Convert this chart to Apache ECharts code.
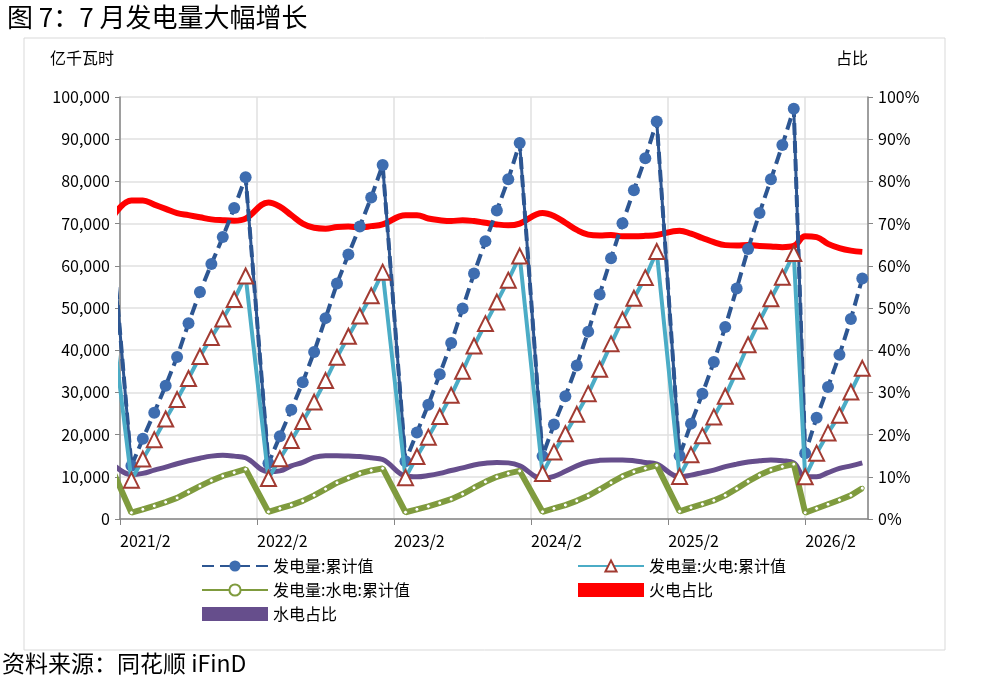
<!DOCTYPE html>
<html><head><meta charset="utf-8">
<script src="https://cdn.jsdelivr.net/npm/echarts@6/dist/echarts.min.js"></script>
<style>html,body{margin:0;background:#fff}#main{width:988px;height:691px}</style>
</head><body><div id="main"></div>
<script>
// month index: 2021/1 = 0 ; -1 = 2020/12 (clipped, only gives the slope at the left edge)
var idx = [-1,
  1,2,3,4,5,6,7,8,9,10,11,
  13,14,15,16,17,18,19,20,21,22,23,
  25,26,27,28,29,30,31,32,33,34,35,
  37,38,39,40,41,42,43,44,45,46,47,
  49,50,51,52,53,54,55,56,57,58,59,
  60,61,62,63,64,65];
var total = [76200,
  12600,19000,25200,31600,38400,46400,53800,60400,66800,73700,81000,
  13200,19600,25900,32400,39600,47600,55800,62700,69300,76200,83900,
  13700,20500,27100,34300,41700,49900,58200,65800,73100,80500,89100,
  14900,22400,29100,36400,44400,53200,61800,70100,77900,85500,94200,
  15000,22600,29700,37200,45500,54600,64000,72500,80500,88600,97200,
  15600,24000,31300,38900,47400,57000];
var thermal = [53300,
  9200,14200,18800,23700,28300,33300,38500,43000,47400,52000,57600,
  9600,14300,18600,23100,27700,32800,38300,43300,48100,52900,58500,
  9800,14800,19400,24300,29300,35000,41000,46300,51400,56600,62300,
  10800,15900,20200,24800,29700,35500,41500,47200,52300,57200,63400,
  10100,15200,19700,24200,29100,35000,41300,46900,52200,57300,62900,
  10000,15600,20400,24600,30100,35700];
var hydro = [13600,
  1500,2300,3100,4000,5000,6400,7800,9100,10200,11000,11800,
  1700,2500,3300,4300,5600,7100,8600,9700,10800,11500,12000,
  1600,2300,3000,3800,4700,5900,7400,8800,10000,10800,11400,
  1700,2500,3300,4300,5500,7000,8600,10100,11200,12000,12700,
  1800,2700,3500,4400,5600,7200,8900,10400,11600,12400,13000,
  1500,2500,3500,4500,5600,7300];
var thermalShare = [70,
  75.5,75.5,74.5,73.5,72.5,72,71.5,71,70.8,70.7,71.2,
  75,74,72,70,69,68.8,69.2,69.3,69.1,69.4,69.8,
  72,72,71.2,70.8,70.6,70.8,70.6,70.2,69.8,69.6,70,
  72.5,71.8,70.2,68.5,67.4,67.2,67.3,67,67,67.1,67.3,
  68.3,67.6,66.6,65.6,64.9,64.8,64.9,64.7,64.6,64.4,64.7,
  67,66.8,65.2,64.2,63.6,63.3];
var hydroShare = [14,
  10.5,10.8,11.6,12.3,13.1,13.8,14.4,14.9,15.1,14.9,14.5,
  11.2,11.4,12.6,13.4,14.6,15,15,14.9,14.8,14.5,14.1,
  10.2,10,10.3,10.8,11.5,12.1,12.8,13.2,13.4,13.3,12.6,
  9.6,10.1,11.3,12.6,13.5,13.9,14,14,13.8,13.4,13,
  10,10.4,11,11.6,12.4,13,13.5,13.8,14,13.8,13.3,
  10,10,11,12,12.6,13.3];
var yearLabels = ['2021/2','2022/2','2023/2','2024/2','2025/2','2026/2'];

function pairs(v){ return idx.map(function(x,i){ return [x, v[i]]; }); }
function shareSeries(v){ return pairs(v.map(function(x){ return x/100; })); }
// the year-end drop of the cumulative line is drawn solid: keep only Dec + following point
function drops(v){
  return idx.map(function(x,i){
    var isDec = (x % 12 === 11) || x === -1;
    var afterDec = i > 0 && ((idx[i-1] % 12 === 11) || idx[i-1] === -1);
    return [x, (isDec || afterDec) ? v[i] : null];
  });
}

var font = '"Noto Sans CJK SC", "Noto Sans", sans-serif';
var myChart = echarts.init(document.getElementById('main'));
var option = {
  animation: false,
  textStyle: { fontFamily: font },
  title: {
    text: '图 7：7 月发电量大幅增长',
    left: 2, top: -1,
    textStyle: { fontSize: 26, fontWeight: 'normal', color: '#000', fontFamily: font }
  },
  graphic: [
    { type: 'rect', shape: { x: 24, y: 38, width: 921, height: 612 }, style: { fill: 'none', stroke: '#d9d9d9', lineWidth: 1 } },
    { type: 'text', left: 2, top: 652, style: { text: '资料来源：同花顺 iFinD', fontSize: 23, fill: '#000', fontFamily: font } },
    { type: 'text', left: 50, top: 50, style: { text: '亿千瓦时', fontSize: 16, fill: '#000', fontFamily: font } },
    { type: 'text', left: 836, top: 50, style: { text: '占比', fontSize: 16, fill: '#000', fontFamily: font } }
  ],
  legend: [{
    orient: 'vertical', left: 196, top: 553, itemGap: 8, itemWidth: 66, itemHeight: 14,
    textStyle: { fontSize: 16, color: '#000', fontFamily: font },
    data: ['发电量:累计值', '发电量:水电:累计值', { name: '水电占比', icon: 'rect', itemStyle: { color: '#664E8C' } }]
  }, {
    orient: 'vertical', left: 572, top: 553, itemGap: 8, itemWidth: 66, itemHeight: 14,
    textStyle: { fontSize: 16, color: '#000', fontFamily: font },
    data: ['发电量:火电:累计值', { name: '火电占比', icon: 'rect', itemStyle: { color: '#FF0000' } }]
  }],
  grid: { left: 120, right: 120, top: 97, bottom: 172 },
  xAxis: {
    type: 'value', min: 0, max: 65.5, interval: 12,
    axisLine: { lineStyle: { color: '#868686', width: 1.5 } },
    axisTick: { show: true, length: 6, lineStyle: { color: '#868686' } },
    splitLine: { show: true, lineStyle: { color: '#e0e0e0', width: 1.5 } },
    axisLabel: {
      showMaxLabel: false, align: 'left', fontSize: 16, color: '#000', margin: 14,
      formatter: function (v) { return yearLabels[Math.round(v / 12)] || ''; }
    }
  },
  yAxis: [{
    type: 'value', min: 0, max: 100000, interval: 10000,
    axisLine: { show: true, lineStyle: { color: '#868686', width: 1.5 } },
    axisTick: { show: true, length: 5, lineStyle: { color: '#868686' } },
    splitLine: { lineStyle: { color: '#e0e0e0', width: 1.5 } },
    axisLabel: { fontSize: 16, color: '#000', margin: 10,
      formatter: function (v) { return v.toLocaleString('en-US'); } }
  }, {
    type: 'value', min: 0, max: 1, interval: 0.1,
    axisLine: { show: true, lineStyle: { color: '#868686', width: 1.5 } },
    axisTick: { show: true, length: 5, lineStyle: { color: '#868686' } },
    splitLine: { show: false },
    axisLabel: { fontSize: 16, color: '#000', margin: 10,
      formatter: function (v) { return Math.round(v * 100) + '%'; } }
  }],
  series: [{
    name: '发电量:累计值', type: 'line', data: pairs(total), clip: true,
    symbol: 'circle', symbolSize: 12, showAllSymbol: true,
    itemStyle: { color: '#3E6DB0' },
    lineStyle: { color: '#2D5692', width: 4, type: [12, 6] },
    z: 3
  }, {
    name: 'drop', type: 'line', data: drops(total), clip: true, connectNulls: false,
    symbol: 'none', lineStyle: { color: '#2D5692', width: 3 }, z: 3, silent: true
  }, {
    name: '发电量:火电:累计值', type: 'line', data: pairs(thermal), clip: true,
    symbol: 'triangle', symbolSize: 15, showAllSymbol: true,
    itemStyle: { color: '#fff', borderColor: '#A23B32', borderWidth: 2 },
    lineStyle: { color: '#4BACC6', width: 4 },
    z: 4
  }, {
    name: '发电量:水电:累计值', type: 'line', data: pairs(hydro), clip: true,
    symbol: 'circle', symbolSize: 4, showAllSymbol: true,
    itemStyle: { color: '#fff', borderColor: '#7F9B3E', borderWidth: 1 },
    lineStyle: { color: '#7F9B3E', width: 6 },
    z: 2
  }, {
    name: '火电占比', type: 'line', yAxisIndex: 1, data: shareSeries(thermalShare), clip: true,
    smooth: 0.4, symbol: 'none',
    itemStyle: { color: '#FF0000' },
    lineStyle: { color: '#FF0000', width: 6 },
    z: 1
  }, {
    name: '水电占比', type: 'line', yAxisIndex: 1, data: shareSeries(hydroShare), clip: true,
    smooth: 0.4, symbol: 'none',
    itemStyle: { color: '#664E8C' },
    lineStyle: { color: '#664E8C', width: 5 },
    z: 1
  }]
};
myChart.setOption(option);
</script>
</body></html>
